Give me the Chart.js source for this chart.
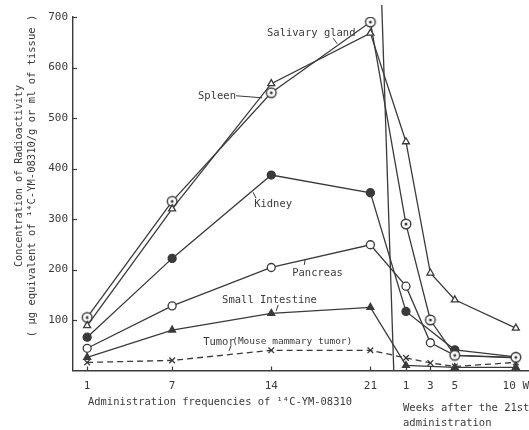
<!DOCTYPE html>
<html><head><meta charset="utf-8">
<script src="https://cdn.jsdelivr.net/npm/chart.js@4/dist/chart.umd.min.js"></script>
<style>html,body{margin:0;padding:0;background:#fff;}#wrap{width:529px;height:430px;}</style>
</head><body><div id="wrap"><canvas id="c" width="529" height="430"></canvas></div>
<script>
// ---- data ----
const dayTicks = [1, 7, 14, 21];
const weekTicks = [1, 3, 5, 10];
const dayLabels = ['1', '7', '14', '21'];
const weekLabels = ['1', '3', '5', '10 W'];
const yTicks = [100, 200, 300, 400, 500, 600, 700];

const salivaryDays = [89, 320, 568, 668];
const salivaryWeeks = [453, 193, 140, 84];
const spleenDays = [105, 335, 550, 690];
const spleenWeeks = [290, 100, 30, 26];
const kidneyDays = [66, 222, 387, 352];
const kidneyWeeks = [117, null, 41, 27];
const pancreasDays = [44, 128, 204, 249];
const pancreasWeeks = [167, 55, 30, 25];
const intestineDays = [26, 80, 113, 125];
const intestineWeeks = [10, null, 6, 6];
const tumorDays = [16, 20, 40, 40];
const tumorWeeks = [25, 15, 8, 16];

// ---- axis layout (weeks sit to the right of day 21 on a compressed scale) ----
const WEEK_ORIGIN = 22.65, WEEK_UNIT = 0.862;
const weekPos = w => WEEK_ORIGIN + WEEK_UNIT * w;
const xTickValues = dayTicks.concat(weekTicks.map(weekPos));
const xTickLabels = dayLabels.concat(weekLabels);

function pts(dv, wv) {
  return dayTicks.map((d, i) => ({x: d, y: dv[i]}))
    .concat(weekTicks.map((w, i) => ({x: weekPos(w), y: wv[i]})));
}

const INK = '#3a3a3a';
const FONT = '"DejaVu Sans Mono", "Liberation Mono", monospace';

// bullseye marker for spleen
const bull = document.createElement('canvas');
bull.width = 14; bull.height = 14;
(() => {
  const g = bull.getContext('2d');
  g.strokeStyle = INK; g.lineWidth = 1.4;
  g.beginPath(); g.arc(7, 7, 4.8, 0, Math.PI * 2); g.fillStyle = '#fff'; g.fill(); g.stroke();
  g.beginPath(); g.arc(7, 7, 1.5, 0, Math.PI * 2); g.fillStyle = INK; g.fill();
})();

const annotations = [
  {text: 'Salivary gland', x: 13.7, y: 668, size: 10.5},
  {text: 'Spleen', x: 8.83, y: 543, size: 10.5},
  {text: 'Kidney', x: 12.79, y: 330, size: 10.5},
  {text: 'Pancreas', x: 15.48, y: 193, size: 10.5},
  {text: 'Small Intestine', x: 10.53, y: 140, size: 10.5},
  {text: 'Tumor', x: 9.19, y: 56, size: 10.5},
  {text: '(Mouse mammary tumor)', x: 11.24, y: 58, size: 9.5}
];
const leaders = [
  [18.37, 658, 18.66, 647],
  [11.52, 544, 13.36, 540],
  [12.72, 353, 12.93, 341],
  [16.40, 221, 16.33, 209],
  [14.49, 130, 14.35, 118],
  [11.17, 50, 11.02, 39]
];

const base = {borderColor: INK, borderWidth: 1.3, tension: 0, spanGaps: true,
  pointBorderColor: INK, pointBorderWidth: 1.3, pointRadius: 4};

const decor = {
  id: 'decor',
  afterDraw(chart) {
    const {ctx, scales: {x, y}, chartArea: ca} = chart;
    ctx.save();
    ctx.strokeStyle = INK; ctx.lineWidth = 1.2;
    // inward tick marks
    yTicks.forEach(v => {
      const py = Math.round(y.getPixelForValue(v)) + 0.5;
      ctx.beginPath(); ctx.moveTo(ca.left, py); ctx.lineTo(ca.left + 4, py); ctx.stroke();
    });
    xTickValues.forEach(v => {
      const px = Math.round(x.getPixelForValue(v)) + 0.5;
      ctx.beginPath(); ctx.moveTo(px, ca.bottom); ctx.lineTo(px, ca.bottom - 4); ctx.stroke();
    });
    // divider between administration period and weeks after
    const xb = x.getPixelForValue(weekPos(0));
    ctx.lineWidth = 1.3;
    ctx.beginPath(); ctx.moveTo(xb - 12, 5); ctx.lineTo(xb, ca.bottom); ctx.stroke();
    // leaders
    ctx.lineWidth = 1;
    leaders.forEach(l => {
      ctx.beginPath();
      ctx.moveTo(x.getPixelForValue(l[0]), y.getPixelForValue(l[1]));
      ctx.lineTo(x.getPixelForValue(l[2]), y.getPixelForValue(l[3]));
      ctx.stroke();
    });
    // annotations
    ctx.fillStyle = INK;
    ctx.textBaseline = 'middle'; ctx.textAlign = 'left';
    annotations.forEach(a => {
      ctx.font = a.size + 'px ' + FONT;
      ctx.fillText(a.text, x.getPixelForValue(a.x), y.getPixelForValue(a.y));
    });
    // axis titles
    ctx.font = '10.5px ' + FONT;
    ctx.fillText('Administration frequencies of \u00B9\u2074C-YM-08310', 88, 402, 264);
    ctx.fillText('Weeks after the 21st', 403, 408);
    ctx.fillText('administration', 403, 423);
    ctx.save();
    ctx.translate(19, 176); ctx.rotate(-Math.PI / 2);
    ctx.textAlign = 'center';
    ctx.fillText('Concentration of Radioactivity', 0, 0, 182);
    ctx.restore();
    ctx.save();
    ctx.translate(32, 176); ctx.rotate(-Math.PI / 2);
    ctx.textAlign = 'center';
    ctx.fillText('( \u03BCg equivalent of \u00B9\u2074C-YM-08310/g or ml of tissue )', 0, 0, 342);
    ctx.restore();
    ctx.restore();
  }
};

new Chart(document.getElementById('c'), {
  type: 'line',
  data: {
    datasets: [
      Object.assign({label: 'Salivary gland', data: pts(salivaryDays, salivaryWeeks),
        pointStyle: 'triangle', pointBackgroundColor: '#fff', pointRadius: 4.5}, base),
      Object.assign({label: 'Spleen', data: pts(spleenDays, spleenWeeks),
        pointStyle: bull}, base),
      Object.assign({label: 'Kidney', data: pts(kidneyDays, kidneyWeeks),
        pointStyle: 'circle', pointBackgroundColor: INK}, base),
      Object.assign({label: 'Pancreas', data: pts(pancreasDays, pancreasWeeks),
        pointStyle: 'circle', pointBackgroundColor: '#fff'}, base),
      Object.assign({label: 'Small Intestine', data: pts(intestineDays, intestineWeeks),
        pointStyle: 'triangle', pointBackgroundColor: INK}, base),
      Object.assign({label: 'Tumor', data: pts(tumorDays, tumorWeeks),
        pointStyle: 'crossRot', borderDash: [6, 4], pointRadius: 3.5}, base)
    ]
  },
  options: {
    responsive: false, animation: false, devicePixelRatio: 1,
    layout: {autoPadding: false, padding: {top: 17, right: 0, bottom: 0, left: 0}},
    plugins: {legend: {display: false}, tooltip: {enabled: false}},
    events: [],
    scales: {
      x: {
        type: 'linear', min: 0, max: 32.2,
        grid: {display: false, drawTicks: false},
        border: {display: true, color: INK, width: 1.4},
        afterFit: s => { s.height = 59.5; s.paddingLeft = 0; s.paddingRight = 0; },
        afterBuildTicks: s => { s.ticks = xTickValues.map(v => ({value: v})); },
        ticks: {autoSkip: false, maxRotation: 0, padding: 9, color: INK,
          font: {family: FONT, size: 11},
          callback: (v, i) => xTickLabels[i]}
      },
      y: {
        min: 0, max: 700,
        grid: {display: false, drawTicks: false},
        border: {display: true, color: INK, width: 1.4},
        afterFit: s => { s.width = 73; s.paddingTop = 0; s.paddingBottom = 0; },
        afterBuildTicks: s => { s.ticks = [0].concat(yTicks).map(v => ({value: v})); },
        ticks: {padding: 5, color: INK, font: {family: FONT, size: 11},
          callback: v => (v === 0 ? '' : String(v))}
      }
    }
  },
  plugins: [decor]
});
</script></body></html>
